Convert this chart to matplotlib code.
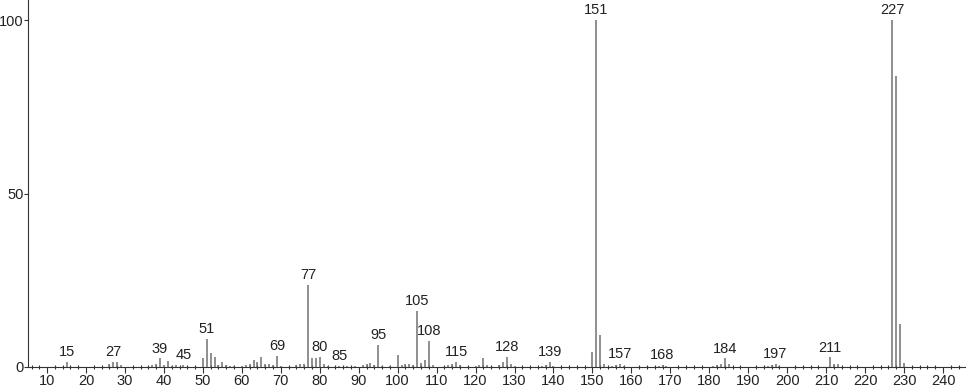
#!/usr/bin/env python3
# Espectro de massa (grafico de barras finas) com rotulos nos picos principais.
import matplotlib
matplotlib.use("Agg")
import matplotlib.pyplot as plt
from matplotlib.ticker import MultipleLocator

# m/z e intensidade relativa (%)
mz = [15, 26, 27, 28, 29, 37, 38, 39, 40, 41, 42, 43, 45,
      50, 51, 52, 53, 54, 55, 56, 57, 58, 60, 61, 62, 63, 64, 65, 66, 67, 68, 69, 70,
      74, 75, 76, 77, 78, 79, 80, 81, 82, 85, 87, 89, 91, 92, 93, 94, 95, 96,
      98, 100, 101, 102, 103, 104, 105, 106, 107, 108, 109,
      113, 114, 115, 116, 120, 121, 122, 123, 126, 127, 128, 129, 130,
      137, 138, 139, 140, 150, 151, 152, 153, 155, 156, 157, 158,
      167, 168, 169, 181, 182, 183, 184, 185, 195, 196, 197, 198,
      211, 212, 213, 227, 228, 229, 230]
intens = [1.5, 0.8, 1.5, 1.5, 0.5, 0.5, 1.0, 2.5, 0.5, 1.8, 0.3, 0.5, 0.5,
          2.5, 8.1, 4.0, 3.0, 0.5, 1.5, 0.5, 0.3, 0.3, 0.3, 0.5, 0.8, 2.0, 1.5, 2.8, 0.8, 1.0, 0.5, 3.2, 0.3,
          0.5, 1.0, 1.0, 23.6, 2.5, 2.5, 3.0, 0.8, 0.3, 0.3, 0.3, 0.3, 0.5, 0.8, 1.2, 0.5, 6.3, 0.3,
          0.3, 3.5, 0.5, 1.0, 0.8, 0.5, 16.1, 1.2, 2.0, 7.5, 0.5,
          0.5, 0.8, 1.5, 0.5, 0.3, 0.5, 2.5, 0.5, 0.5, 1.5, 3.0, 1.0, 0.3,
          0.3, 0.5, 1.5, 0.3, 4.3, 100, 9.2, 1.0, 0.3, 0.5, 0.8, 0.3,
          0.3, 0.5, 0.3, 0.3, 0.5, 0.8, 2.5, 1.0, 0.3, 0.5, 0.8, 0.3,
          2.8, 1.0, 0.8, 100, 84, 12.5, 1.2]

rotulados = [15, 27, 39, 45, 51, 69, 77, 80, 85, 95, 105, 108, 115,
             128, 139, 151, 157, 168, 184, 197, 211, 227]

plt.rcParams["font.family"] = ["Liberation Sans", "DejaVu Sans"]

fig = plt.figure(figsize=(9.66, 3.89), dpi=100)
ax = fig.add_axes([28 / 966, 22 / 389, 938 / 966, 367 / 389])

ax.vlines(mz, 0, intens, color="#707070", lw=1.1)

alt = dict(zip(mz, intens))
for m in rotulados:
    ax.annotate(str(m), (m, alt[m]), textcoords="offset points", xytext=(0, 2),
                ha="center", va="bottom", fontsize=10.5, color="#222222")

ax.set_xlim(5.1, 245.9)
ax.set_ylim(0, 105.8)
ax.set_xticks(range(10, 241, 10))
ax.xaxis.set_minor_locator(MultipleLocator(2))
ax.set_yticks([0, 50, 100])
ax.tick_params(axis="x", which="major", direction="out", length=4, width=0.8,
               labelsize=10.5, pad=1, colors="#333333", labelcolor="#222222")
ax.tick_params(axis="x", which="minor", direction="inout", length=3, width=0.8,
               colors="#333333")
ax.tick_params(axis="y", direction="out", length=3, width=0.8, labelsize=10.5,
               pad=0.3, colors="#333333", labelcolor="#222222")

for lado in ("top", "right"):
    ax.spines[lado].set_visible(False)
for lado in ("left", "bottom"):
    ax.spines[lado].set_color("#333333")
    ax.spines[lado].set_linewidth(0.8)

fig.savefig("out.png", dpi=100)
